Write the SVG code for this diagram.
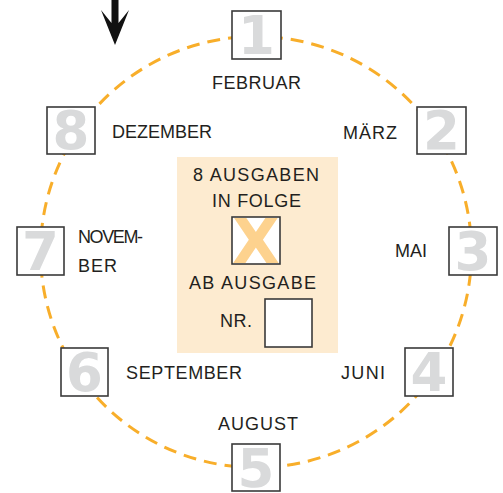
<svg xmlns="http://www.w3.org/2000/svg" width="503" height="493" viewBox="0 0 503 493">
<style>
.lbl{font-family:"Liberation Sans",Arial,sans-serif;font-size:18px;fill:#231f20;}
.box{fill:#fff;stroke:#3a3a3a;stroke-width:1.6;}
.num{font-family:"DejaVu Sans",sans-serif;font-weight:bold;font-size:53px;fill:#d9dadb;text-anchor:middle;}
</style>
<defs>
<clipPath id="xclip"><rect x="233" y="218" width="46" height="45"/></clipPath>
</defs>
<rect width="503" height="493" fill="#fff"/>
<g id="connectors">
<circle cx="256" cy="252" r="215.5" fill="none" stroke="#f8ae2a" stroke-width="3" stroke-dasharray="13 8"/>
<polygon id="arrow" points="111.5,0 118.5,0 118.5,23 129,10 115,45 101,10 111.5,23" fill="#111"/>
</g>
<g id="panel">
<rect x="177" y="157" width="161" height="196" fill="#fdebd0"/>
<text class="lbl" x="256" y="181" text-anchor="middle" textLength="126" lengthAdjust="spacing">8 AUSGABEN</text>
<text class="lbl" x="256.5" y="207" text-anchor="middle" textLength="89" lengthAdjust="spacing">IN FOLGE</text>
<g id="xbox">
<rect x="232" y="217" width="48" height="47" fill="#fff"/>
<text x="256" y="263" text-anchor="middle" font-family="DejaVu Sans,sans-serif" font-weight="bold" font-size="62" fill="#fdd28e" clip-path="url(#xclip)">X</text>
<rect x="232" y="217" width="48" height="47" fill="none" stroke="#3a3a3a" stroke-width="1.6"/>
</g>
<text class="lbl" x="252.5" y="289" text-anchor="middle" textLength="127" lengthAdjust="spacing">AB AUSGABE</text>
<text class="lbl" x="220" y="327" textLength="32" lengthAdjust="spacing">NR.</text>
<rect id="nrbox" class="box" x="265" y="299" width="47" height="48"/>
</g>
<g id="n1"><rect class="box" x="232" y="11" width="49" height="48"/><text class="num" x="256.5" y="54">1</text></g>
<g id="n2"><rect class="box" x="417" y="107" width="49" height="47"/><text class="num" x="441.5" y="149">2</text></g>
<g id="n3"><rect class="box" x="449" y="227" width="48" height="48"/><text class="num" x="473" y="270">3</text></g>
<g id="n4"><rect class="box" x="405" y="348" width="48" height="48"/><text class="num" x="429" y="391">4</text></g>
<g id="n5"><rect class="box" x="232" y="444" width="48" height="47"/><text class="num" x="256" y="487">5</text></g>
<g id="n6"><rect class="box" x="61" y="348" width="47" height="48"/><text class="num" x="84.5" y="391">6</text></g>
<g id="n7"><rect class="box" x="17" y="227" width="47" height="48"/><text class="num" x="40.5" y="270">7</text></g>
<g id="n8"><rect class="box" x="47" y="107" width="48" height="47"/><text class="num" x="71" y="149">8</text></g>
<g id="labels">
<text class="lbl" x="212" y="89" textLength="89" lengthAdjust="spacing">FEBRUAR</text>
<text class="lbl" x="343" y="139" textLength="54" lengthAdjust="spacing">MÄRZ</text>
<text class="lbl" x="395" y="257" textLength="32" lengthAdjust="spacing">MAI</text>
<text class="lbl" x="341" y="379" textLength="44" lengthAdjust="spacing">JUNI</text>
<text class="lbl" x="218" y="430" textLength="80" lengthAdjust="spacing">AUGUST</text>
<text class="lbl" x="126" y="379" textLength="116" lengthAdjust="spacing">SEPTEMBER</text>
<text class="lbl" x="78" y="243" textLength="65" lengthAdjust="spacing">NOVEM-</text>
<text class="lbl" x="78" y="272" textLength="39" lengthAdjust="spacing">BER</text>
<text class="lbl" x="112" y="138" textLength="100" lengthAdjust="spacing">DEZEMBER</text>
</g>
</svg>
